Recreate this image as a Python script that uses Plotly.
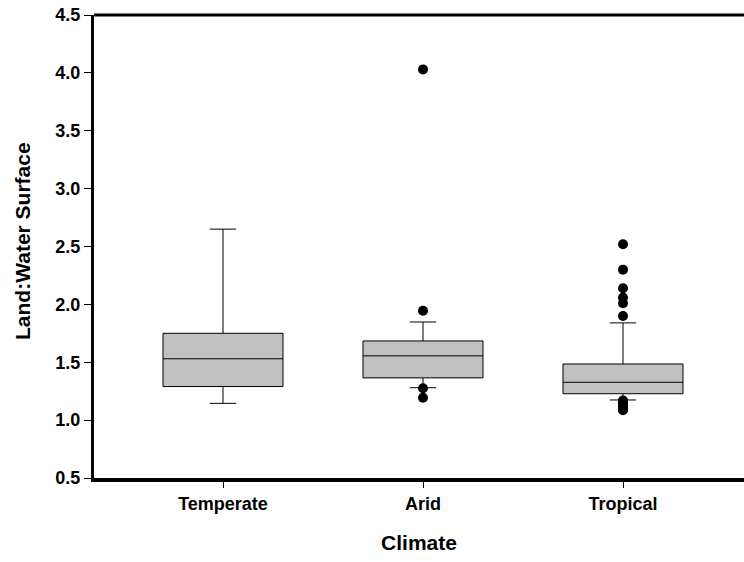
import plotly.graph_objects as go

categories = ["Temperate", "Arid", "Tropical"]
positions = [0, 1, 2]
q1 = [1.29, 1.365, 1.228]
median = [1.53, 1.555, 1.327]
q3 = [1.75, 1.684, 1.485]
lower_whisker = [1.145, 1.28, 1.174]
upper_whisker = [2.65, 1.848, 1.84]

outlier_x = [1, 1, 1, 1, 2, 2, 2, 2, 2, 2, 2, 2, 2, 2, 2, 2]
outlier_y = [4.03, 1.945, 1.275, 1.194,
             2.52, 2.30, 2.14, 2.06, 2.01, 1.90,
             1.17, 1.15, 1.13, 1.11, 1.095, 1.085]

y_ticks = [0.5, 1.0, 1.5, 2.0, 2.5, 3.0, 3.5, 4.0, 4.5]

FONT = "Arial, Liberation Sans, sans-serif"

fig = go.Figure()
fig.add_trace(go.Box(
    x=positions, q1=q1, median=median, q3=q3,
    lowerfence=lower_whisker, upperfence=upper_whisker,
    boxpoints=False, width=0.6, whiskerwidth=0.22,
    fillcolor="#c0c0c0", line=dict(color="black", width=1),
    showlegend=False, hoverinfo="skip",
))
fig.add_trace(go.Scatter(
    x=outlier_x, y=outlier_y, mode="markers",
    marker=dict(color="black", size=10, line=dict(width=0)),
    showlegend=False, hoverinfo="skip",
))

fig.update_layout(
    width=744, height=562,
    margin=dict(l=94, r=0, t=15, b=84),
    plot_bgcolor="white", paper_bgcolor="white",
    font=dict(family=FONT, color="black"),
    xaxis=dict(
        range=[-0.645, 2.605], tickvals=positions, ticktext=categories,
        showgrid=False, zeroline=False,
        showline=True, linewidth=4, linecolor="black",
        ticks="outside", ticklen=6, tickwidth=1, tickcolor="black",
        tickfont=dict(family=FONT, size=18, color="black", weight="bold"),
        title=dict(text="<b>Climate</b>", font=dict(family=FONT, size=21, color="black"), standoff=24),
    ),
    yaxis=dict(
        range=[0.5, 4.5], tickvals=y_ticks, tickformat=".1f",
        showgrid=False, zeroline=False,
        showline=True, linewidth=3, linecolor="black",
        ticks="outside", ticklen=7, tickwidth=1, tickcolor="black",
        tickfont=dict(family=FONT, size=18, color="black", weight="bold"),
    ),
    annotations=[dict(text="<b>Land:Water Surface</b>", xref="paper", yref="paper",
                      x=-0.1092, y=0.512, xanchor="center", yanchor="middle",
                      textangle=-90, showarrow=False,
                      font=dict(family=FONT, size=21, color="black"))],
    shapes=[dict(type="line", xref="paper", yref="paper", x0=0, x1=1, y0=1, y1=1,
                 line=dict(color="black", width=3))],
)

fig.write_html("out.html")
